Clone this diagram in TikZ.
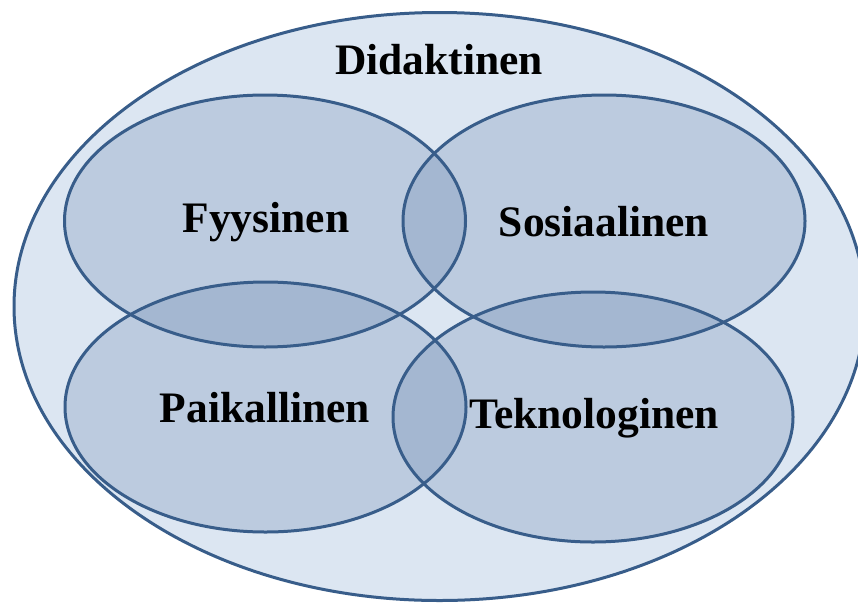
\documentclass[tikz,border=0pt]{standalone}
\usepackage{fontspec}
\setmainfont{Liberation Serif}
\definecolor{outerfill}{RGB}{220,230,242}
\definecolor{edge}{RGB}{56,93,138}
\definecolor{setfill}{RGB}{85,117,164}
\begin{document}
\begin{tikzpicture}[x=1pt,y=-1pt,
  outerset/.style={fill=outerfill,draw=edge,line width=3pt},
  innerfill/.style={fill=setfill,fill opacity=0.23},
  inneredge/.style={draw=edge,line width=3pt},
  lbl/.style={font=\fontsize{43.5}{50}\selectfont\bfseries,text=black,inner sep=0pt}]
\useasboundingbox (0,0) rectangle (858,603);
\begin{scope}
\clip (0,0) rectangle (858,603);
\path[outerset] (439.5,306.5) ellipse [x radius=425.5, y radius=294];
\path[innerfill] (265,221) ellipse [x radius=200.5, y radius=126];
\path[innerfill] (604,221) ellipse [x radius=201, y radius=126];
\path[innerfill] (265.5,407) ellipse [x radius=200.5, y radius=125];
\path[innerfill] (593,417) ellipse [x radius=200, y radius=125];
\path[inneredge] (265,221) ellipse [x radius=200.5, y radius=126];
\path[inneredge] (604,221) ellipse [x radius=201, y radius=126];
\path[inneredge] (265.5,407) ellipse [x radius=200.5, y radius=125];
\path[inneredge] (593,417) ellipse [x radius=200, y radius=125];
\end{scope}
\node[lbl] (didaktinen) at (439,60) {Didaktinen};
\node[lbl] (fyysinen) at (266,222) {Fyysinen};
\node[lbl] (sosiaalinen) at (604,222) {Sosiaalinen};
\node[lbl] (paikallinen) at (265,408) {Paikallinen};
\node[lbl] (teknologinen) at (594,418) {Teknologinen};
\end{tikzpicture}
\end{document}
